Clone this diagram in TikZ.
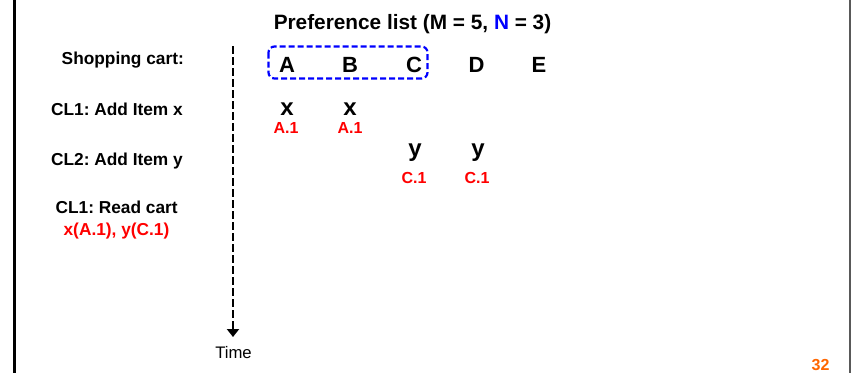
\documentclass[tikz,border=0pt]{standalone}
\usepackage{fontspec}
\setmainfont{Liberation Sans}
\usetikzlibrary{arrows.meta}
\definecolor{myred}{RGB}{255,0,0}
\definecolor{myblue}{RGB}{0,0,255}
\definecolor{myorange}{RGB}{255,102,0}
\frenchspacing
\begin{document}
\begin{tikzpicture}[x=1pt,y=-1pt,
  lbl/.style={anchor=base east,inner sep=0pt,font=\fontsize{17.3}{20}\selectfont\bfseries\frenchspacing},
  lblc/.style={anchor=base,inner sep=0pt,font=\fontsize{17.3}{20}\selectfont\bfseries\frenchspacing},
  letter/.style={anchor=base,inner sep=0pt,font=\fontsize{22}{26}\selectfont\bfseries},
  item/.style={anchor=base,inner sep=0pt,font=\fontsize{24}{28}\selectfont\bfseries},
  ver/.style={anchor=base,inner sep=0pt,text=myred,font=\fontsize{16}{19}\selectfont\bfseries},
  timeline/.style={line width=2.5pt,dash pattern=on 8pt off 3pt,-{Triangle[width=12pt,length=8pt]}},
  prefbox/.style={draw=myblue,line width=2.2pt,dash pattern=on 6pt off 3pt,rounded corners=6pt}]
\useasboundingbox (0,0) rectangle (851,373);
% borders
\draw[line width=3pt] (14.2,0) -- (14.2,373);
\draw[line width=1.5pt,black!65] (849.8,0) -- (849.8,373);
% title
\node[anchor=base,inner sep=0pt,font=\fontsize{20.8}{24}\selectfont\bfseries\frenchspacing] (title) at (412.5,29) {Preference list (M = 5, \textcolor{myblue}{N} = 3)};
% left labels
\node[lbl] (cart) at (184,64) {Shopping cart:};
\node[lbl] (cl1add) at (183,115) {CL1: Add Item x};
\node[lbl] (cl2add) at (183,165) {CL2: Add Item y};
\node[lblc] (cl1read) at (116.7,213) {CL1: Read cart};
\node[lblc,text=myred] (readres) at (116.5,235) {x(A.1), y(C.1)};
% time axis
\coordinate (tstart) at (233,46);
\coordinate (tend) at (233,337);
\draw[timeline] (tstart) -- (tend);
\node[anchor=base,inner sep=0pt,font=\fontsize{16.7}{20}\selectfont] (time) at (233.5,358) {Time};
% preference list
\node[letter] (A) at (287,72) {A};
\node[letter] (B) at (350,72) {B};
\node[letter] (C) at (414,72) {C};
\node[letter] (D) at (476.5,72) {D};
\node[letter] (E) at (539,72) {E};
\draw[prefbox] (268.5,46.5) rectangle (427.5,78.5);
% writes
\node[item] (xA) at (287,115.7) {x};
\node[item] (xB) at (350,115.7) {x};
\node[ver] (vA) at (286,133.3) {A.1};
\node[ver] (vB) at (350,133.3) {A.1};
\node[item] (yC) at (415,156.7) {y};
\node[item] (yD) at (478,156.7) {y};
\node[ver] (vC) at (414,183.3) {C.1};
\node[ver] (vD) at (477,183.3) {C.1};
% page number
\node[anchor=base,inner sep=0pt,text=myorange,font=\fontsize{16}{19}\selectfont\bfseries] (page) at (820.5,370.3) {32};
\end{tikzpicture}
\end{document}
